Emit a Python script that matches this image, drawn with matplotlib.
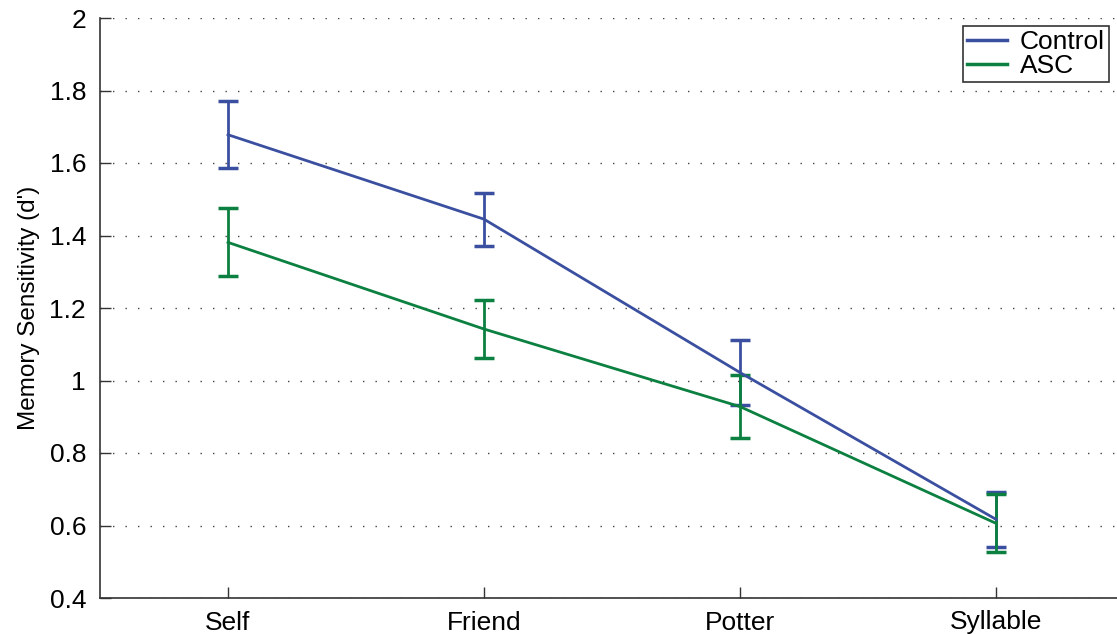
import numpy as np
import matplotlib as mpl
mpl.use('agg')
import matplotlib.pyplot as plt
from matplotlib.lines import Line2D

plt.rcParams['font.family'] = ['Liberation Sans', 'DejaVu Sans']

conditions = ['Self', 'Friend', 'Potter', 'Syllable']
control_mean = [1.678, 1.445, 1.022, 0.617]
control_err = [0.092, 0.073, 0.090, 0.076]
asc_mean = [1.381, 1.142, 0.928, 0.606]
asc_err = [0.094, 0.079, 0.087, 0.080]

blue = '#3a4fa0'
green = '#0b8040'

fig = plt.figure(figsize=(11.17, 6.34), dpi=100)
ax = fig.add_axes([100 / 1117, 36 / 634, 1024 / 1117, 580 / 634])

x = np.arange(1, len(conditions) + 1)
ax.errorbar(x, control_mean, yerr=control_err, color=blue, lw=2,
            capsize=7, capthick=2.5)
ax.errorbar(x, asc_mean, yerr=asc_err, color=green, lw=2,
            capsize=7, capthick=2.5)

ax.set_xlim(0.5, 4.5)
ax.set_ylim(0.4, 2.0)
ax.set_xticks(x)
ax.set_xticklabels(conditions)
ax.set_yticks(np.arange(0.4, 2.01, 0.2))
ax.set_yticklabels(['0.4', '0.6', '0.8', '1', '1.2', '1.4', '1.6', '1.8', '2'])
ax.tick_params(axis='both', which='major', direction='in', length=8,
               width=1, labelsize=19, color='#333333')
ax.tick_params(axis='y', pad=10)
ax.tick_params(axis='x', pad=9)

# dotted horizontal grid, drawn under the data
ax.yaxis.grid(True, ls=(0, (1, 8)), lw=1, color='#444444')
ax.set_axisbelow(True)

for side in ['top', 'right']:
    ax.spines[side].set_visible(False)
for side in ['left', 'bottom']:
    ax.spines[side].set_color('#333333')
    ax.spines[side].set_linewidth(1.2)

ax.set_ylabel("Memory Sensitivity (d')", fontsize=17.5, labelpad=7)

handles = [Line2D([], [], color=blue, lw=2.5),
           Line2D([], [], color=green, lw=2.5)]
leg = ax.legend(handles, ['Control', 'ASC'], loc='upper right',
                bbox_to_anchor=(1109 / 1117, 1 - 26 / 634),
                bbox_transform=fig.transFigure, fontsize=19, frameon=True,
                fancybox=False, handlelength=1.5, handletextpad=0.5,
                borderpad=0.15, labelspacing=0.0, borderaxespad=0)
leg.get_frame().set_edgecolor('black')
leg.get_frame().set_linewidth(1.2)

plt.savefig('out.png', dpi=100)
